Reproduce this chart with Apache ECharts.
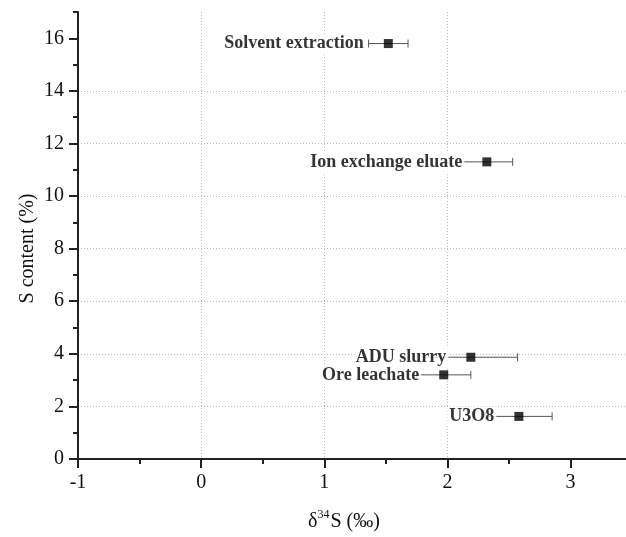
<!DOCTYPE html>
<html>
<head>
<meta charset="utf-8">
<script src="https://cdn.jsdelivr.net/npm/echarts@6/dist/echarts.min.js"></script>
<style>html,body{margin:0;padding:0;background:#fff}#c{width:626px;height:537px}</style>
</head>
<body>
<div id="c"></div>
<script>
var names = ['Solvent extraction', 'Ion exchange eluate', 'ADU slurry', 'Ore leachate', 'U3O8'];
var d34S = [1.52, 2.32, 2.19, 1.97, 2.58];
var sContent = [15.8, 11.3, 3.87, 3.2, 1.62];
var d34SErr = [0.16, 0.21, 0.38, 0.22, 0.27];
var xMajorTicks = [-1, 0, 1, 2, 3];
var xMinorTicks = [-0.5, 0.5, 1.5, 2.5];
var yMajorTicks = [0, 2, 4, 6, 8, 10, 12, 14, 16];
var yMinorTicks = [1, 3, 5, 7, 9, 11, 13, 15, 17];

var FONT = '"Liberation Serif","Times New Roman",serif';
var AXC = '#222';

var pts = names.map(function (n, i) { return { name: n, value: [d34S[i], sContent[i]] }; });
var errData = names.map(function (n, i) { return [d34S[i], sContent[i], d34SErr[i]]; });

var chart = echarts.init(document.getElementById('c'), null, { renderer: 'canvas' });
chart.setOption({
  backgroundColor: '#fff',
  animation: false,
  grid: { left: 78, top: 12, right: 0, bottom: 75, containLabel: false },
  xAxis: [{
    type: 'value', min: -1, max: 3.45, interval: 1,
    name: '{d|δ}{sup|34}{d|S (‰)}', nameLocation: 'middle', nameGap: 50,
    nameTextStyle: { padding: [0, 16, 0, 0], rich: {
      d: { fontFamily: FONT, fontSize: 20, color: '#111' },
      sup: { fontFamily: FONT, fontSize: 12, color: '#111', padding: [0, 1, 14, 0] }
    } },
    axisLine: { show: true, onZero: false, lineStyle: { color: AXC, width: 2 } },
    axisTick: { show: true, length: 9, customValues: xMajorTicks, lineStyle: { color: AXC, width: 2 } },
    axisLabel: { show: true, margin: 14, customValues: xMajorTicks, fontFamily: FONT, fontSize: 20, color: '#111' },
    splitLine: { show: true, showMinLine: false, showMaxLine: false, lineStyle: { color: '#bbb', type: [1, 2], width: 1 } }
  }, {
    type: 'value', min: -1, max: 3.45, interval: 1, position: 'bottom',
    axisLine: { show: false, onZero: false },
    axisTick: { show: true, length: 5, customValues: xMinorTicks, lineStyle: { color: AXC, width: 2 } },
    axisLabel: { show: false },
    splitLine: { show: false }
  }],
  yAxis: [{
    type: 'value', min: 0, max: 17, interval: 2,
    name: 'S content (%)', nameLocation: 'middle', nameGap: 40, nameMoveOverlap: false,
    nameTextStyle: { fontFamily: FONT, fontSize: 20, color: '#111', padding: [0, 26, 0, 0] },
    axisLine: { show: true, onZero: false, lineStyle: { color: AXC, width: 2 } },
    axisTick: { show: true, length: 9, customValues: yMajorTicks, lineStyle: { color: AXC, width: 2 } },
    axisLabel: { show: true, margin: 14, customValues: yMajorTicks, fontFamily: FONT, fontSize: 20, color: '#111' },
    splitLine: { show: true, showMinLine: false, showMaxLine: false, lineStyle: { color: '#bbb', type: [1, 2], width: 1 } }
  }, {
    type: 'value', min: 0, max: 17, interval: 2, position: 'left',
    axisLine: { show: false, onZero: false },
    axisTick: { show: true, length: 5, customValues: yMinorTicks, lineStyle: { color: AXC, width: 2 } },
    axisLabel: { show: false },
    splitLine: { show: false }
  }],
  series: [{
    type: 'custom', xAxisIndex: 0, yAxisIndex: 0, z: 2,
    data: errData,
    renderItem: function (params, api) {
      var x = api.value(0), y = api.value(1), e = api.value(2);
      var p1 = api.coord([x - e, y]);
      var p2 = api.coord([x + e, y]);
      var cap = 4;
      var st = { stroke: '#555', lineWidth: 1 };
      return { type: 'group', children: [
        { type: 'line', shape: { x1: p1[0], y1: p1[1], x2: p2[0], y2: p2[1] }, style: st },
        { type: 'line', shape: { x1: p1[0], y1: p1[1] - cap, x2: p1[0], y2: p1[1] + cap }, style: st },
        { type: 'line', shape: { x1: p2[0], y1: p2[1] - cap, x2: p2[0], y2: p2[1] + cap }, style: st }
      ] };
    }
  }, {
    type: 'scatter', xAxisIndex: 0, yAxisIndex: 0, z: 3,
    symbol: 'rect', symbolSize: 9,
    itemStyle: { color: '#000' },
    data: pts,
    label: {
      show: true, position: 'left', distance: 18,
      formatter: '{b}',
      fontFamily: FONT, fontSize: 18, fontWeight: 'bold', color: '#000',
      backgroundColor: '#fff', padding: [1, 2, 1, 2]
    }
  }]
});
</script>
</body>
</html>
